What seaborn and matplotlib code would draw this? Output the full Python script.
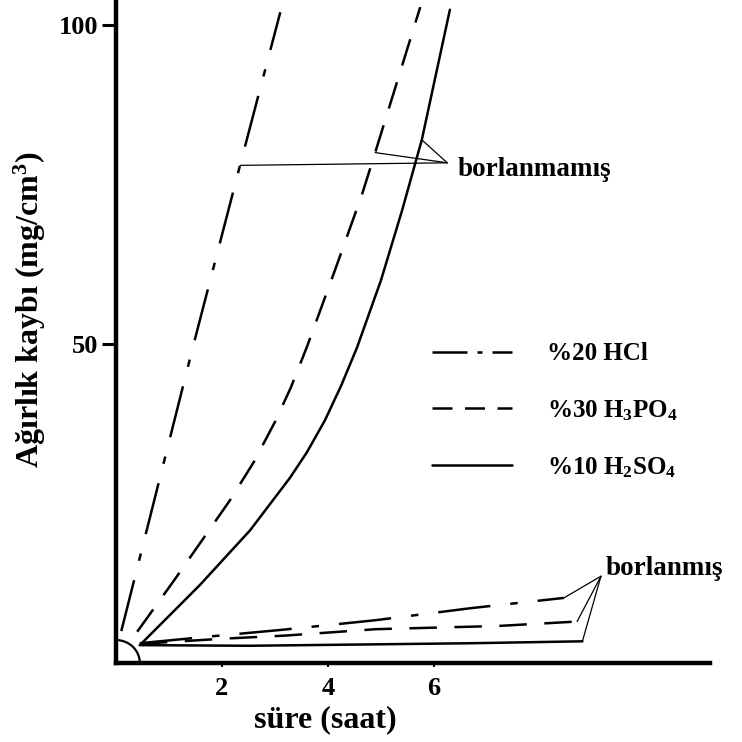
import numpy as np
import matplotlib
matplotlib.use("Agg")
import matplotlib.pyplot as plt
from matplotlib.lines import Line2D
from matplotlib.patches import Arc
import seaborn as sns

# ---------------- data ----------------
# unborided (borlanmamış) samples
hcl_x = [0.1, 1.45, 2.34, 3.1]
hcl_y = [5.0, 49.5, 78.0, 102.0]
h3po4_x = [0.4, 1.1, 2.15, 2.6, 3.0, 3.3, 3.6, 4.15, 4.64, 4.89, 5.74]
h3po4_y = [4.9, 13.0, 25.5, 31.5, 37.8, 43.2, 49.5, 62.0, 73.4, 80.0, 102.8]
h2so4_x = [0.45, 1.58, 2.53, 3.28, 3.6, 3.94, 4.25, 4.55, 5.0, 5.4, 5.77, 6.3]
h2so4_y = [2.8, 12.2, 20.8, 29.0, 33.0, 38.0, 43.5, 49.5, 60.0, 71.0, 82.0, 102.4]

# borided (borlanmış) samples
hcl_b_x = [0.45, 1.7, 3.13, 4.89, 6.7, 8.45]
hcl_b_y = [3.1, 4.1, 5.2, 6.7, 8.6, 10.2]
h3po4_b_x = [0.45, 2.0, 3.2, 4.9, 7.2, 8.7]
h3po4_b_y = [3.0, 3.8, 4.3, 5.3, 5.8, 6.5]
h2so4_b_x = [0.45, 2.5, 4.65, 6.7, 8.8]
h2so4_b_y = [2.8, 2.7, 2.9, 3.1, 3.4]

legend_labels = ["%20 HCl", "%30 H$_3$PO$_4$", "%10 H$_2$SO$_4$"]
x_ticks = [2, 4, 6]
y_ticks = [50, 100]
x_label = "süre (saat)"
y_label = "Ağırlık kaybı (mg/cm$^3$)"
label_unborided = "borlanmamış"
label_borided = "borlanmış"

# leader-line targets (y values on the unborided curves) and hubs
unb_target_y = [78.0, 80.0, 82.0]
unb_hub = (6.25, 78.4)
bor_hub = (9.15, 13.6)

# ---------------- styling ----------------
sns.set_theme(style="white")
plt.rcParams["font.family"] = ["Liberation Serif", "DejaVu Serif"]
plt.rcParams["font.weight"] = "bold"
plt.rcParams["text.color"] = "black"
plt.rcParams["axes.labelcolor"] = "black"
plt.rcParams["xtick.color"] = "black"
plt.rcParams["ytick.color"] = "black"
plt.rcParams["mathtext.fontset"] = "custom"
plt.rcParams["mathtext.rm"] = "Liberation Serif:bold"
plt.rcParams["mathtext.it"] = "Liberation Serif:bold:italic"
plt.rcParams["mathtext.bf"] = "Liberation Serif:bold"

LW = 1.8
DASHDOT = (0, (21, 8, 3, 8))
DASHED = (0, (11, 7))
SOLID = "-"

fig = plt.figure(figsize=(7.42, 7.42), dpi=100)
ax = fig.add_axes([116 / 742, 79 / 742, 0.800, 0.8908])

curves = [
    (hcl_x, hcl_y, DASHDOT),
    (h3po4_x, h3po4_y, DASHED),
    (h2so4_x, h2so4_y, SOLID),
    (hcl_b_x, hcl_b_y, DASHDOT),
    (h3po4_b_x, h3po4_b_y, DASHED),
    (h2so4_b_x, h2so4_b_y, SOLID),
]
for xs, ys, ls in curves:
    sns.lineplot(x=xs, y=ys, ax=ax, color="black", linewidth=LW,
                 linestyle=ls, sort=False, estimator=None)

# small arc at the origin
ax.add_patch(Arc((0, 0), width=0.9, height=7.2, theta1=0, theta2=90,
                 color="black", lw=1.6))

# leader lines for "borlanmamış"
unb_curves = [(hcl_x, hcl_y), (h3po4_x, h3po4_y), (h2so4_x, h2so4_y)]
for (xs, ys), ty in zip(unb_curves, unb_target_y):
    tx = np.interp(ty, ys, xs)
    ax.plot([unb_hub[0], tx], [unb_hub[1], ty], color="black", lw=0.9)
ax.text(unb_hub[0] + 0.2, unb_hub[1] - 1.0, label_unborided, fontsize=19.5,
        fontweight="bold", ha="left", va="center")

# leader lines for "borlanmış"
for xs, ys in [(hcl_b_x, hcl_b_y), (h3po4_b_x, h3po4_b_y), (h2so4_b_x, h2so4_b_y)]:
    ax.plot([xs[-1], bor_hub[0]], [ys[-1], bor_hub[1]], color="black", lw=0.9)
ax.text(bor_hub[0] + 0.08, bor_hub[1] + 1.2, label_borided, fontsize=19.5,
        fontweight="bold", ha="left", va="center")

# legend
handles = [
    Line2D([], [], color="black", lw=LW, linestyle=(0, (14, 4, 2, 4))),
    Line2D([], [], color="black", lw=LW, linestyle=(0, (8, 5))),
    Line2D([], [], color="black", lw=LW, linestyle="-"),
]
ax.legend(handles, legend_labels, loc="upper left",
          bbox_to_anchor=(0.532, 0.485), frameon=False, fontsize=18,
          handlelength=3.2, handletextpad=1.4, labelspacing=1.3,
          borderpad=0, borderaxespad=0)

# axes
ax.set_xlim(0, 11.2)
ax.set_ylim(0, 103.6)
ax.set_xticks(x_ticks)
ax.set_yticks(y_ticks)
ax.tick_params(axis="y", direction="out", length=10, width=2.2, pad=3,
               labelsize=19, left=True)
ax.tick_params(axis="x", direction="out", length=3, width=1.5, pad=7,
               labelsize=19, bottom=True)
for lab in ax.get_xticklabels() + ax.get_yticklabels():
    lab.set_fontweight("bold")
for s in ["top", "right"]:
    ax.spines[s].set_visible(False)
for s in ["left", "bottom"]:
    ax.spines[s].set_linewidth(3.2)
    ax.spines[s].set_color("black")

ax.set_xlabel(x_label, fontsize=23, fontweight="bold")
ax.xaxis.set_label_coords(0.352, -0.086)
ax.xaxis.label.set_va("center")
ax.set_ylabel(y_label, fontsize=23, fontweight="bold")
ax.yaxis.set_label_coords(-0.145, 0.534)
ax.yaxis.label.set_va("center")

fig.savefig("out.png", dpi=100)
